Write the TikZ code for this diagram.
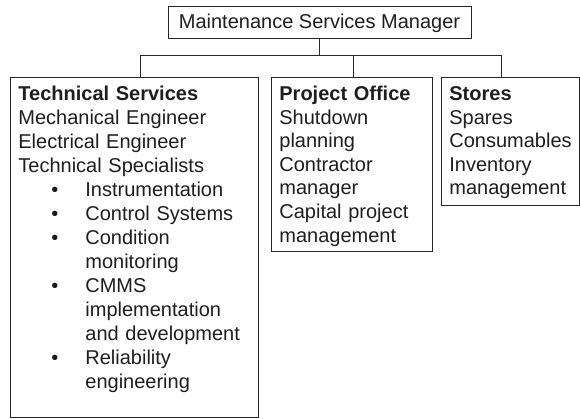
\documentclass[tikz,border=0pt]{standalone}
\usepackage{fontspec}
\setmainfont{Liberation Sans}
\usepackage{tikz}
\usetikzlibrary{positioning,calc}
\definecolor{orgLine}{RGB}{40,40,40}
\definecolor{orgText}{RGB}{30,30,30}
\newcommand{\firstline}{\rule{0pt}{23pt}}
\newcommand{\bul}{\makebox[67pt][l]{\hspace{33pt}\textbullet}}
\newcommand{\cont}{\hspace*{67pt}}

\begin{document}
\begin{tikzpicture}[
    x=1pt, y=-1pt,
    box/.style={draw=orgLine, line width=0.8pt, anchor=north west, align=left, text=orgText, inner xsep=8pt, inner ysep=0pt, font=\fontsize{20}{23.6}\selectfont},
    head/.style={draw=orgLine, line width=0.8pt, anchor=north, text=orgText, inner ysep=0pt, minimum width=303pt, text height=22pt, text depth=10pt, font=\fontsize{20}{24}\selectfont},
    link/.style={draw=orgLine, line width=0.8pt}
  ]
    \useasboundingbox (0,0) rectangle (580,418);
    \node[head] (mgr) at (319.5,6) {Maintenance Services Manager};
    \node[box, text width=232pt, font=\fontsize{20}{24}\selectfont] (tech) at (10,77) {\firstline\textbf{Technical Services}\\
      Mechanical Engineer\\
      Electrical Engineer\\
      Technical Specialists\\
      \bul Instrumentation\\
      \bul Control Systems\\
      \bul Condition\\
      \cont monitoring\\
      \bul CMMS\\
      \cont implementation\\
      \cont and development\\
      \bul Reliability\\
      \cont engineering\rule[-29pt]{0pt}{29pt}};
    \node[box, text width=145pt] (proj) at (271,77) {\firstline\textbf{Project Office}\\
      Shutdown\\
      planning\\
      Contractor\\
      manager\\
      Capital project\\
      management\rule[-9pt]{0pt}{9pt}};
    \node[box, text width=122pt] (stores) at (441,77) {\firstline\textbf{Stores}\\
      Spares\\
      Consumables\\
      Inventory\\
      management\rule[-11pt]{0pt}{11pt}};
    \coordinate (busL) at (140,55);
    \coordinate (busM) at (353,55);
    \coordinate (busR) at (501,55);
    \draw[link] (mgr.south) -- (mgr.south |- busL);
    \draw[link] (busL) -- (busR);
    \draw[link] (busL) -- (busL |- tech.north);
    \draw[link] (busM) -- (busM |- proj.north);
    \draw[link] (busR) -- (busR |- stores.north);
  \end{tikzpicture}
\end{document}
